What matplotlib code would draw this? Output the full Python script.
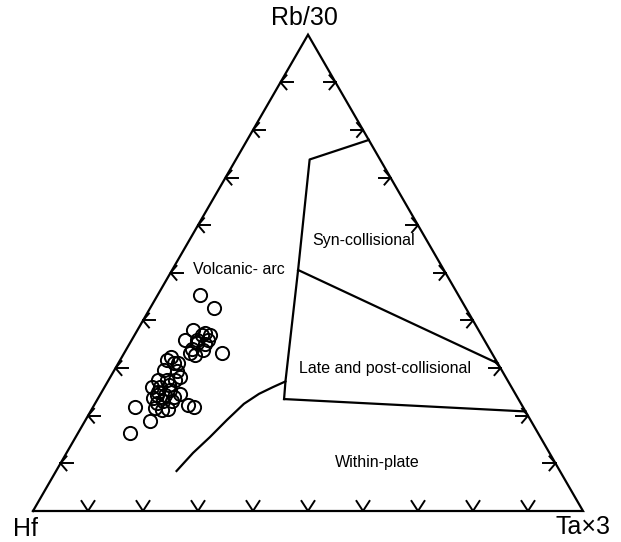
import numpy as np
import matplotlib
matplotlib.use("Agg")
import matplotlib.pyplot as plt

plt.rcParams['font.family'] = ['Liberation Sans', 'DejaVu Sans']

# sample compositions, percent of (Hf + Rb/30 + Ta*3); Hf = 100 - Rb - Ta
rb = [45.4, 42.6, 37.9, 37.3, 37.0, 35.8, 35.8, 34.0, 33.8, 32.8, 33.2, 35.1,
      32.3, 31.1, 29.5, 29.3, 28.1, 26.1, 26.1, 26.5, 24.6, 24.4, 24.4, 22.6,
      23.0, 21.4, 22.3, 21.9, 21.8, 21.6, 18.8, 16.3, 27.5, 27.5, 31.7, 27.5,
      25.4, 23.7, 23.0, 37.0, 35.9, 35.2, 33.1, 31.0, 25.0, 21.2, 23.9]
ta = [7.7, 11.6, 10.2, 12.6, 13.6, 9.8, 11.9, 11.9, 14.1, 13.0, 17.7, 13.7,
      9.0, 10.1, 9.0, 11.6, 12.6, 8.5, 10.0, 11.4, 14.5, 10.3, 11.8, 11.2,
      12.2, 13.9, 17.1, 18.4, 7.7, 11.4, 11.9, 9.5, 10.6, 9.0, 8.5, 12.1,
      12.2, 10.0, 13.8, 12.2, 13.9, 12.2, 12.0, 10.9, 10.2, 12.9, 13.7]

# field boundaries (Rb, Ta) in percent
arc_rb = [77.9, 73.8, 50.6, 27.2, 23.5]
arc_ta = [22.1, 13.4, 22.9, 32.3, 33.9]
syn_rb = [50.6, 31.0]
syn_ta = [22.9, 69.0]
wpg_rb = [23.5, 20.9]
wpg_ta = [33.9, 79.1]
curve_rb = [8.4, 12.2, 15.5, 19.1, 22.5, 24.6, 26.0, 27.2]
curve_ta = [21.9, 23.0, 24.4, 25.7, 27.1, 28.8, 30.6, 32.3]

tick_fracs = [0.1, 0.2, 0.3, 0.4, 0.5, 0.6, 0.7, 0.8, 0.9]

H = np.sqrt(3) / 2
PX = 1 / 550.0  # one pixel in triangle units


def tern(r, t):
    r = np.asarray(r) / 100.0
    t = np.asarray(t) / 100.0
    return t + r / 2, r * H


def px2d(px, py):
    return (px - 33) * PX, (511 - py) * PX


fig = plt.figure(figsize=(6.21, 5.42), dpi=100)
ax = fig.add_axes([0, 0, 1, 1])
ax.set_xlim(-33 * PX, 588 * PX)
ax.set_ylim(-31 * PX, 511 * PX)
ax.axis('off')

lw = 1.6
ax.plot([0, 1, 0.5, 0], [0, 0, H, 0], color='black', lw=lw, solid_joinstyle='miter')

# arrow ticks on the three sides
tk = dict(color='black', lw=1.4)
for t in tick_fracs:
    # bottom
    ax.plot([t - 6.5 * PX, t, t + 6.5 * PX], [10 * PX, 0, 10 * PX], **tk)
    # left side
    x0, y0 = t / 2, t * H
    ax.plot([x0, x0 + 12 * PX], [y0, y0], **tk)
    ax.plot([x0 + 6 * PX, x0, x0 + 6 * PX], [y0 + 7 * PX, y0, y0 - 7 * PX], **tk)
    # right side
    x1 = 1 - t / 2
    ax.plot([x1 - 12 * PX, x1], [y0, y0], **tk)
    ax.plot([x1 - 6 * PX, x1, x1 - 6 * PX], [y0 + 7 * PX, y0, y0 - 7 * PX], **tk)

for r_, t_ in [(arc_rb, arc_ta), (syn_rb, syn_ta), (wpg_rb, wpg_ta), (curve_rb, curve_ta)]:
    x, y = tern(r_, t_)
    ax.plot(x, y, color='black', lw=lw, solid_joinstyle='round')

x, y = tern(rb, ta)
ax.plot(x, y, 'o', mfc='none', mec='black', ms=9.5, mew=1.4, ls='none')

# labels
ax.text(*px2d(304, 18), 'Rb/30', fontsize=18, ha='center', va='center')
ax.text(*px2d(26, 529), 'Hf', fontsize=18, ha='center', va='center')
ax.text(*px2d(583, 527), 'Ta×3', fontsize=18, ha='center', va='center')
ax.text(*px2d(239, 270), 'Volcanic- arc', fontsize=11.5, ha='center', va='center')
ax.text(*px2d(364, 240), 'Syn-collisional', fontsize=11.5, ha='center', va='center')
ax.text(*px2d(385, 368), 'Late and post-collisional', fontsize=11.5, ha='center', va='center')
ax.text(*px2d(377, 463), 'Within-plate', fontsize=11.5, ha='center', va='center')

fig.savefig('out.png', dpi=100)
